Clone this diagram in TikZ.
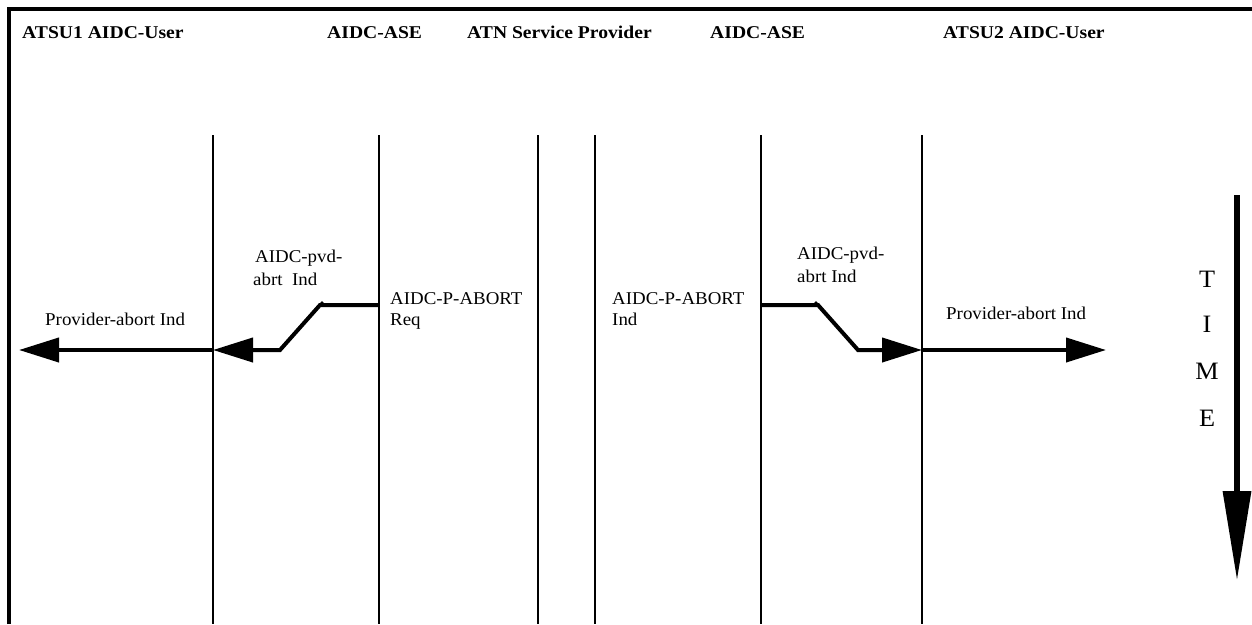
\documentclass[tikz,border=0pt]{standalone}
\usepackage{fontspec}
\setmainfont{Liberation Serif}
\usetikzlibrary{arrows.meta}

\begin{document}
\begin{tikzpicture}[x=1pt,y=-1pt,
  lifeline/.style={line width=1.5pt},
  frameline/.style={line width=3.5pt},
  msg/.style={line width=4pt, line join=miter},
  bighead/.style={-{Triangle[length=40pt,width=24pt]}},
  hdr/.style={font=\fontsize{18}{21}\bfseries\selectfont, anchor=base west, inner sep=0pt, xscale=1.09},
  lbl/.style={font=\fontsize{18}{21}\selectfont, anchor=base west, inner sep=0pt, xscale=1.05},
  timelbl/.style={font=\fontsize{25}{28}\selectfont, anchor=base, inner sep=0pt, xscale=1.05}]

  % page area
  \useasboundingbox (0,0) rectangle (1252,624);

  % open frame: left and top edges
  \draw[frameline] (9,624) -- (9,9) -- (1252,9);

  % column headings
  \node[hdr] (h1) at (22,38) {ATSU1 AIDC-User};
  \node[hdr] (h2) at (327,38) {AIDC-ASE};
  \node[hdr] (h3) at (467,38) {ATN Service Provider};
  \node[hdr] (h4) at (710,38) {AIDC-ASE};
  \node[hdr] (h5) at (943,38) {ATSU2 AIDC-User};

  % lifelines
  \foreach \n/\x in {a/213, b/379, c/538, d/595, e/761, f/922} {
    \coordinate (\n top) at (\x,135);
    \coordinate (\n bot) at (\x,624);
    \draw[lifeline] (\n top) -- (\n bot);
  }

  % message anchor points on lifelines
  \coordinate (bReq) at (379,305);
  \coordinate (aInd) at (213,350);
  \coordinate (eInd) at (761,305);
  \coordinate (fInd) at (922,350);
  \coordinate (leftEnd) at (19,350);
  \coordinate (rightEnd) at (1106,350);
  \coordinate (bendL1) at (320,305);
  \coordinate (bendL2) at (280,350);
  \coordinate (bendR1) at (818,305);
  \coordinate (bendR2) at (858,350);

  % ATSU1 side: provider abort passed up to the user
  \draw[msg, bighead] (bReq) -- (bendL1) -- (bendL2) -- (aInd);
  \fill (bendL1) ++(2,-2) circle (1.8pt);
  \draw[msg, bighead] (aInd) -- (leftEnd);

  % ATSU2 side: provider abort passed up to the user
  \draw[msg, bighead] (eInd) -- (bendR1) -- (bendR2) -- (fInd);
  \fill (bendR1) ++(-2,-2) circle (1.8pt);
  \draw[msg, bighead] (fInd) -- (rightEnd);

  % primitive labels
  \node[lbl] (p1a) at (255,262) {AIDC-pvd-};
  \node[lbl] (p1b) at (253,285) {abrt\ \ Ind};
  \node[lbl] (r1a) at (390,304) {AIDC-P-ABORT};
  \node[lbl] (r1b) at (390,325) {Req};
  \node[lbl] (r2a) at (612,304) {AIDC-P-ABORT};
  \node[lbl] (r2b) at (612,325) {Ind};
  \node[lbl] (p2a) at (797,259) {AIDC-pvd-};
  \node[lbl] (p2b) at (797,282) {abrt Ind};
  \node[lbl] (u1) at (45,325) {Provider-abort Ind};
  \node[lbl] (u2) at (946,319) {Provider-abort Ind};

  % time axis
  \coordinate (tTop) at (1237,195);
  \coordinate (tEnd) at (1237,581);
  \draw[line width=6.5pt, -{Triangle[length=90pt,width=27pt]}] (tTop) -- (tEnd);
  \node[timelbl] (tT) at (1207,287) {T};
  \node[timelbl] (tI) at (1207,332) {I};
  \node[timelbl] (tM) at (1207,379) {M};
  \node[timelbl] (tE) at (1207,426) {E};
\end{tikzpicture}
\end{document}
